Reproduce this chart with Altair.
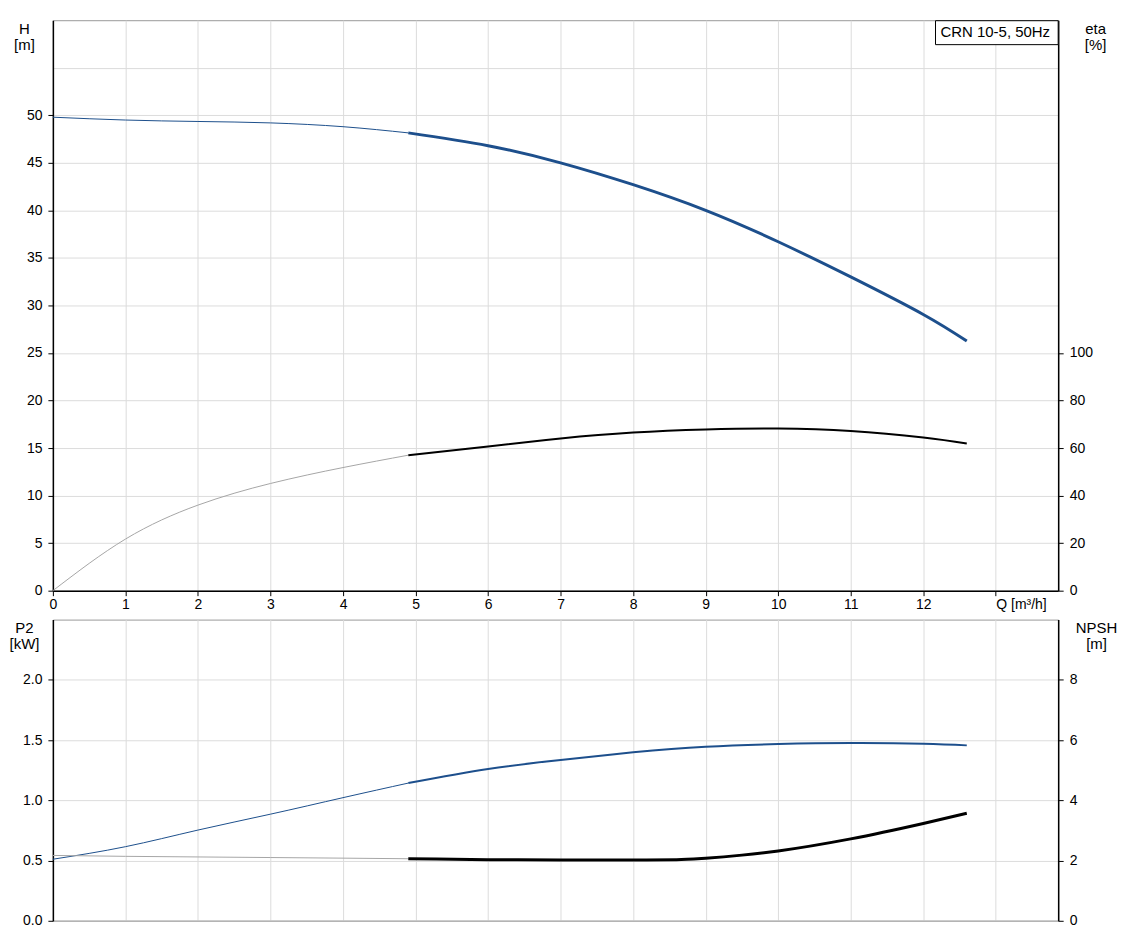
import altair as alt
import pandas as pd

# ---------------- data ----------------
Q = [0, 1, 2, 3, 4, 4.9, 6, 7, 8, 9, 10, 11, 12, 12.6]
H = [49.8, 49.5, 49.35, 49.2, 48.8, 48.15, 46.8, 45.0, 42.7, 40.0, 36.7, 33.0, 29.05, 26.25]
ETA = [0, 21.7, 36.0, 45.1, 51.8, 57.0, 60.7, 64.0, 66.5, 67.8, 68.2, 67.2, 64.4, 61.9]
P2 = [0.511, 0.615, 0.753, 0.885, 1.022, 1.143, 1.26, 1.335, 1.398, 1.445, 1.467, 1.475, 1.47, 1.456]
Q_NPSH = [0, 1, 2, 3, 4, 4.9, 6, 7, 8, 8.6, 9, 9.5, 10, 11, 12, 12.6]
NPSH = [2.17, 2.14, 2.12, 2.10, 2.08, 2.06, 2.03, 2.02, 2.02, 2.03, 2.08, 2.18, 2.32, 2.72, 3.23, 3.57]
DUTY_START = 4.9
Q_MAX = 13.86
Q_TICKS = list(range(0, 14))
LABEL = "CRN 10-5, 50Hz"

FONT = "Liberation Sans"
BLUE = "#1d4f8c"
THIN_GREY = "#a6a6a6"

W = 1008
H_TOP = 572
H_BOT = 302


def frame(qs, vs):
    return pd.DataFrame({"Q": qs, "v": vs})


df_h = frame(Q, H)
df_eta = frame(Q, ETA)
df_p2 = frame(Q, P2)
df_npsh = frame(Q_NPSH, NPSH)
df_label = pd.DataFrame({"label": [LABEL]})

x_scale = alt.Scale(domain=[0, Q_MAX], nice=False, zero=False)

top_x_axis = alt.Axis(
    values=Q_TICKS,
    labelExpr="datum.value == 13 ? 'Q [m³/h]' : datum.label",
    labelAlign={"condition": {"test": "datum.value == 13", "value": "left"}, "value": "center"},
    labelFlush=False,
    labelOverlap=False,
    labelPadding=2,
    grid=True,
    title=None,
)
bot_x_axis = alt.Axis(
    values=Q_TICKS,
    labels=False,
    ticks=False,
    grid=True,
    domainColor="#b4b4b4",
    domainWidth=1.5,
    title=None,
)


def yaxis(title, values, shown_max, orient, title_x, grid, fmt=None):
    kw = dict(
        values=values,
        labelExpr=f"datum.value <= {shown_max} ? datum.label : ''",
        tickOpacity={"condition": {"test": f"datum.value > {shown_max}", "value": 0}, "value": 1},
        orient=orient,
        grid=grid,
        title=title,
        titleAngle=0,
        titleAlign="center",
        titleBaseline="top",
        titleX=title_x,
        titleY=1,
        titleLineHeight=16,
        labelPadding=6,
    )
    if fmt:
        kw["format"] = fmt
    return alt.Axis(**kw)


def line(df, y, color, width, thick, interp):
    base = alt.Chart(df)
    if thick:
        base = base.transform_filter(alt.datum.Q >= DUTY_START)
    else:
        base = base.transform_filter(alt.datum.Q <= DUTY_START)
    return base.mark_line(color=color, strokeWidth=width, interpolate=interp).encode(
        x=alt.X("Q:Q", scale=x_scale, axis=None),
        y=y,
    )


def with_x(chart, axis):
    return chart.encode(x=alt.X("Q:Q", scale=x_scale, axis=axis))


# ---------------- top panel: H and eta ----------------
y_h = alt.Y(
    "v:Q",
    scale=alt.Scale(domain=[0, 60], nice=False),
    axis=yaxis(["H", "[m]"], list(range(0, 60, 5)), 50, "left", -29, True),
)
y_eta = alt.Y(
    "v:Q",
    scale=alt.Scale(domain=[0, 240], nice=False),
    axis=yaxis(["eta", "[%]"], list(range(0, 101, 20)), 100, "right", 37, False),
)

h_thin = with_x(line(df_h, y_h, BLUE, 1, False, "natural"), top_x_axis)
h_thick = with_x(line(df_h, y_h, BLUE, 3, True, "natural"), top_x_axis)

box = alt.Chart(df_label).mark_rect(fill="white", stroke="black", strokeWidth=1).encode(
    x=alt.value(885), x2=alt.value(W), y=alt.value(0.5), y2=alt.value(24.5)
)
box_text = alt.Chart(df_label).mark_text(
    align="left", baseline="alphabetic", font=FONT, fontSize=15, color="black"
).encode(x=alt.value(890), y=alt.value(16.5), text="label:N")

eta_thin = with_x(line(df_eta, y_eta, THIN_GREY, 1, False, "natural"), top_x_axis)
eta_thick = with_x(line(df_eta, y_eta, "black", 2, True, "natural"), top_x_axis)

top = (
    alt.layer(
        alt.layer(h_thin, h_thick, box, box_text),
        alt.layer(eta_thin, eta_thick),
    )
    .resolve_scale(y="independent")
    .properties(width=W, height=H_TOP)
)

# ---------------- bottom panel: P2 and NPSH ----------------
y_p2 = alt.Y(
    "v:Q",
    scale=alt.Scale(domain=[0, 2.5], nice=False),
    axis=yaxis(["P2", "[kW]"], [0, 0.5, 1.0, 1.5, 2.0], 2.0, "left", -29, True, ".1f"),
)
y_npsh = alt.Y(
    "v:Q",
    scale=alt.Scale(domain=[0, 10], nice=False),
    axis=yaxis(["NPSH", "[m]"], [0, 2, 4, 6, 8], 8, "right", 38, False),
)

p2_thin = with_x(line(df_p2, y_p2, BLUE, 1, False, "natural"), bot_x_axis)
p2_thick = with_x(line(df_p2, y_p2, BLUE, 2, True, "natural"), bot_x_axis)
npsh_thin = with_x(line(df_npsh, y_npsh, THIN_GREY, 1, False, "monotone"), bot_x_axis)
npsh_thick = with_x(line(df_npsh, y_npsh, "black", 3, True, "monotone"), bot_x_axis)

bottom = (
    alt.layer(
        alt.layer(p2_thin, p2_thick),
        alt.layer(npsh_thin, npsh_thick),
    )
    .resolve_scale(y="independent")
    .properties(width=W, height=H_BOT)
)

chart = (
    alt.vconcat(top, bottom, spacing=6)
    .properties(padding={"left": 0, "top": 10, "right": 5, "bottom": 5})
    .configure(font=FONT)
    .configure_axis(
        labelFont=FONT,
        labelFontSize=14,
        labelColor="black",
        titleFont=FONT,
        titleFontSize=15,
        titleFontWeight="normal",
        titleColor="black",
        domainColor="black",
        domainWidth=1.5,
        tickColor="black",
        tickSize=5,
        gridColor="#dcdcdc",
        gridWidth=1,
    )
    .configure_view(stroke="#9a9a9a", strokeWidth=1)
)

chart.save("out.html", embed_options={"renderer": "svg", "actions": False})
